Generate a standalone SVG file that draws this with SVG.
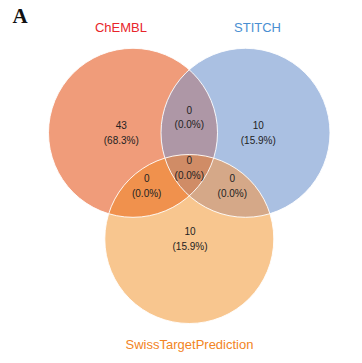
<svg xmlns="http://www.w3.org/2000/svg" width="362" height="363" viewBox="0 0 362 363">
<style>
.lbl{font-family:"Liberation Sans",Arial,sans-serif;font-size:13px;text-anchor:middle}
.num{font-family:"Liberation Sans",Arial,sans-serif;font-size:10px;fill:#222;text-anchor:middle}
.edge{fill:none;stroke:#fff;stroke-width:1;stroke-opacity:0.9}
</style>
<defs>
<circle id="cA" cx="133" cy="132.8" r="84.5"/>
<circle id="cB" cx="245.5" cy="132.8" r="84.5"/>
<circle id="cC" cx="189.3" cy="239" r="84.5"/>
<clipPath id="clipA"><use href="#cA"/></clipPath>
<clipPath id="clipB"><use href="#cB"/></clipPath>
<clipPath id="clipC"><use href="#cC"/></clipPath>
</defs>
<rect width="362" height="363" fill="#fff"/>
<text x="12.5" y="22.5" font-family="Liberation Serif,Times New Roman,serif" font-weight="bold" font-size="21" fill="#111">A</text>
<g id="ChEMBL">
<use href="#cA" fill="#F09C7A"/>
<text class="lbl" x="121" y="32" fill="#E8252B">ChEMBL</text>
<text class="num" x="121.3" y="129">43</text>
<text class="num" x="121.3" y="143.5">(68.3%)</text>
</g>
<g id="STITCH">
<use href="#cB" fill="#AAC0E2"/>
<text class="lbl" x="257.5" y="32" fill="#4A8FD2">STITCH</text>
<text class="num" x="258.3" y="129">10</text>
<text class="num" x="258.3" y="143.5">(15.9%)</text>
</g>
<g id="SwissTargetPrediction">
<use href="#cC" fill="#F8C68F"/>
<text class="lbl" x="189.5" y="348.5" fill="#F28423">SwissTargetPrediction</text>
<text class="num" x="190" y="235">10</text>
<text class="num" x="190" y="249.5">(15.9%)</text>
</g>
<g id="ChEMBL_STITCH">
<g clip-path="url(#clipA)"><use href="#cB" fill="#AE97A6"/></g>
<text class="num" x="189.3" y="114">0</text>
<text class="num" x="189.3" y="128">(0.0%)</text>
</g>
<g id="ChEMBL_Swiss">
<g clip-path="url(#clipA)"><use href="#cC" fill="#F0914D"/></g>
<text class="num" x="146.7" y="182.3">0</text>
<text class="num" x="146.7" y="196.5">(0.0%)</text>
</g>
<g id="STITCH_Swiss">
<g clip-path="url(#clipB)"><use href="#cC" fill="#D5A888"/></g>
<text class="num" x="232.3" y="182.3">0</text>
<text class="num" x="232.3" y="196.5">(0.0%)</text>
</g>
<g id="All_three">
<g clip-path="url(#clipA)"><g clip-path="url(#clipB)"><use href="#cC" fill="#D08C66"/></g></g>
</g>
<g id="connectors">
<use href="#cA" class="edge"/>
<use href="#cB" class="edge"/>
<use href="#cC" class="edge"/>
</g>
<g id="labels_center">
<text class="num" x="189.3" y="164.3">0</text>
<text class="num" x="189.3" y="178.8">(0.0%)</text>
</g>
</svg>
